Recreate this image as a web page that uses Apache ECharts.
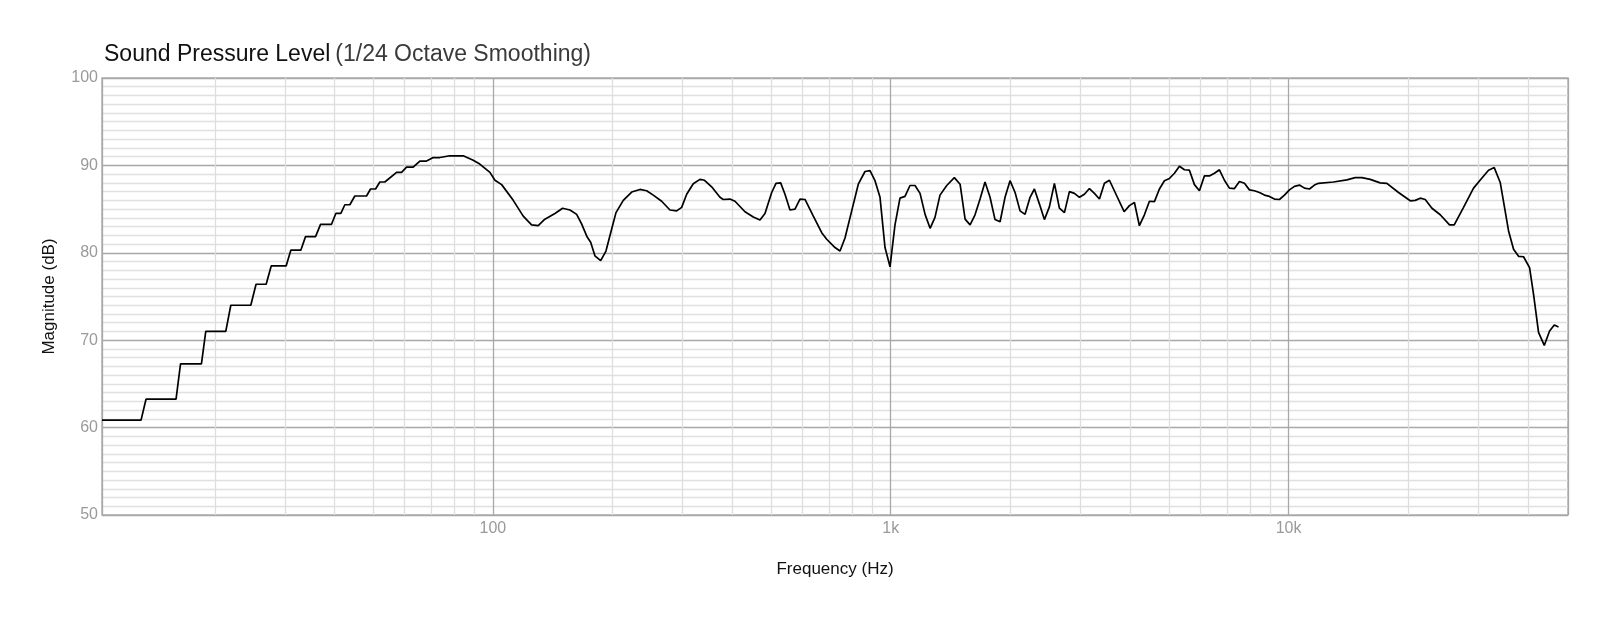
<!DOCTYPE html>
<html>
<head>
<meta charset="utf-8">
<title>Sound Pressure Level</title>
<script src="https://cdn.jsdelivr.net/npm/echarts@6/dist/echarts.min.js"></script>
<style>
  html, body { margin: 0; padding: 0; background: #fff; }
  #container { width: 1600px; height: 625px; }
</style>
</head>
<body>
<div id="container"></div>
<script>
var freqHz = [
  10.41, 13.05, 13.43, 15.98, 16.40, 18.51, 18.98, 21.31, 21.94, 24.63,
  25.39, 26.92, 27.72, 30.22, 31.05, 32.90, 33.81, 35.83, 36.88, 39.30,
  40.29, 41.48, 42.45, 43.70, 44.98, 48.12, 49.26, 50.71, 51.98, 53.50,
  57.27, 58.94, 60.67, 63.04, 65.53, 68.13, 70.78, 73.57, 77.96, 84.21,
  89.23, 92.7, 98.3, 101.2, 105.2, 112.5, 119.2, 125.1, 130.0, 135.1,
  143.2, 149.7, 156.2, 162.4, 167.1, 172.6, 176.1, 180.5, 186.6, 192.4,
  198.8, 203.9, 212.7, 223.3, 234.2, 243.5, 253.0, 265.6, 278.7, 289.7,
  298.2, 307.0, 318.9, 331.5, 340.4, 354.7, 372.2, 379.4, 394.4, 406.0,
  430.2, 451.4, 469.2, 483.0, 502.1, 514.7, 528.9, 542.3, 558.2, 574.6,
  591.5, 608.9, 638.9, 670.7, 690.4, 724.3, 745.6, 767.5, 797.8, 828.9,
  861.7, 887.0, 913.1, 939.9, 967.5, 996.0, 1025, 1055, 1086, 1118,
  1151, 1185, 1220, 1256, 1292, 1330, 1383, 1445, 1494, 1538,
  1583, 1629, 1677, 1726, 1777, 1829, 1883, 1938, 1995, 2054,
  2114, 2176, 2240, 2297, 2364, 2434, 2505, 2579, 2655, 2733,
  2813, 2896, 2981, 3068, 3158, 3251, 3347, 3445, 3546, 3701,
  3861, 3981, 4098, 4218, 4342, 4470, 4601, 4736, 4875, 5018,
  5166, 5317, 5474, 5634, 5800, 5970, 6145, 6326, 6512, 6703,
  6900, 7102, 7311, 7526, 7747, 7974, 8208, 8449, 8697, 8953,
  9216, 9486, 9765, 10052, 10347, 10651, 10964, 11286, 11617, 11889,
  12971, 14016, 14706, 15288, 16040, 16996, 17668, 18899, 20224, 20818,
  21429, 22058, 22931, 24059, 25390, 26090, 27533, 29173, 30629, 31821,
  32890, 34045, 35730, 36780, 37860, 38970, 40350, 41290, 42500, 43930,
  45300, 46550, 47720
];
var splDb = [
  60.85, 60.85, 63.25, 63.25, 67.3, 67.3, 71.0, 71.0, 74.0, 74.0,
  76.4, 76.4, 78.5, 78.5, 80.3, 80.3, 81.85, 81.85, 83.26, 83.26,
  84.5, 84.5, 85.5, 85.5, 86.5, 86.5, 87.3, 87.3, 88.1, 88.1,
  89.2, 89.2, 89.8, 89.8, 90.5, 90.5, 90.9, 90.9, 91.1, 91.1,
  90.6, 90.15, 89.2, 88.3, 87.8, 86.0, 84.2, 83.2, 83.1, 83.85,
  84.5, 85.1, 84.9, 84.4, 83.3, 81.8, 81.2, 79.65, 79.1, 80.2,
  82.7, 84.6, 86.0, 86.95, 87.25, 87.1, 86.6, 85.9, 84.9, 84.8,
  85.2, 86.7, 87.9, 88.4, 88.3, 87.55, 86.35, 86.1, 86.15, 85.9,
  84.7, 84.1, 83.75, 84.5, 86.9, 87.95, 88.0, 86.7, 84.9, 85.0,
  86.15, 86.1, 84.2, 82.3, 81.55, 80.6, 80.2, 81.7, 84.8, 87.85,
  89.3, 89.4, 88.25, 86.35, 80.6, 78.4, 83.2, 86.25, 86.45, 87.7,
  87.7, 86.8, 84.4, 82.8, 84.05, 86.6, 87.7, 88.6, 87.85, 83.85,
  83.2, 84.35, 86.15, 88.1, 86.35, 83.8, 83.55, 86.35, 88.25, 86.9,
  84.8, 84.4, 86.35, 87.3, 85.6, 83.8, 85.25, 87.95, 85.1, 84.6,
  87.0, 86.8, 86.35, 86.7, 87.35, 86.8, 86.15, 87.95, 88.3, 86.5,
  84.7, 85.4, 85.75, 83.1, 84.35, 85.9, 85.85, 87.3, 88.25, 88.5,
  89.1, 89.9, 89.5, 89.45, 87.8, 87.1, 88.8, 88.8, 89.1, 89.5,
  88.3, 87.4, 87.35, 88.15, 87.95, 87.2, 87.1, 86.9, 86.6, 86.45,
  86.15, 86.1, 86.6, 87.2, 87.6, 87.75, 87.4, 87.3, 87.75, 87.95,
  88.1, 88.35, 88.6, 88.6, 88.4, 88.0, 87.95, 86.9, 85.95, 86.0,
  86.25, 86.1, 85.1, 84.35, 83.2, 83.2, 85.2, 87.4, 88.55, 89.45,
  89.75, 88.05, 82.5, 80.4, 79.6, 79.55, 78.3, 75.25, 70.9, 69.4,
  71.05, 71.75, 71.5
];
// frequency range shown and the light 2..9 per-decade gridlines
var freqMin = 10.41;
var freqMax = 50400;
var minorFreqs = [20, 30, 40, 50, 60, 70, 80, 90,
  200, 300, 400, 500, 600, 700, 800, 900,
  2000, 3000, 4000, 5000, 6000, 7000, 8000, 9000,
  20000, 30000, 40000];
var decadeLabels = { 100: '100', 1000: '1k', 10000: '10k' };

var dom = document.getElementById('container');
var myChart = echarts.init(dom);

var points = freqHz.map(function (f, i) { return [f, splDb[i]]; });
var font = '"Liberation Sans", Arial, Helvetica, sans-serif';

var option = {
  animation: false,
  backgroundColor: '#ffffff',
  title: {
    left: 99,
    top: 38,
    text: '{a|Sound Pressure Level} {b|(1/24 Octave Smoothing)}',
    textStyle: {
      fontWeight: 'normal',
      rich: {
        a: { fontFamily: font, fontSize: 23, fontWeight: 'normal', color: '#111111' },
        b: { fontFamily: font, fontSize: 23, fontWeight: 'normal', color: '#3a3a3a' }
      }
    }
  },
  grid: {
    left: 102,
    right: 32,
    top: 78,
    bottom: 110,
    show: true,
    borderColor: '#b3b3b3',
    borderWidth: 1.5
  },
  xAxis: {
    type: 'log',
    logBase: 10,
    min: freqMin,
    max: freqMax,
    name: 'Frequency (Hz)',
    nameLocation: 'middle',
    nameGap: 46,
    nameTextStyle: { fontFamily: font, fontSize: 17, color: '#111111' },
    axisLine: { show: false },
    axisTick: { show: false },
    axisLabel: {
      showMinLabel: false,
      showMaxLabel: false,
      margin: 6,
      fontFamily: font,
      fontSize: 16,
      color: '#9a9a9a',
      formatter: function (v) {
        var r = Math.round(v);
        return decadeLabels[r] || '';
      }
    },
    splitLine: { show: true, lineStyle: { color: '#a8a8a8', width: 1.3 } }
  },
  yAxis: {
    type: 'value',
    min: 50,
    max: 100,
    interval: 10,
    name: 'Magnitude (dB)',
    nameLocation: 'middle',
    nameGap: 44,
    nameTextStyle: { fontFamily: font, fontSize: 17, color: '#111111' },
    axisLine: { show: false },
    axisTick: { show: false },
    axisLabel: { margin: 4, fontFamily: font, fontSize: 16, color: '#9a9a9a' },
    splitLine: { show: true, lineStyle: { color: '#a8a8a8', width: 1.3 } },
    minorTick: { show: false, splitNumber: 10 },
    minorSplitLine: { show: true, lineStyle: { color: '#e0e0e0', width: 1.3 } }
  },
  series: [
    {
      name: 'grid',
      type: 'line',
      data: [],
      z: 1,
      silent: true,
      markLine: {
        silent: true,
        symbol: ['none', 'none'],
        label: { show: false },
        lineStyle: { color: '#dedede', width: 1.3, type: 'solid' },
        data: minorFreqs.map(function (f) { return { xAxis: f }; })
      }
    },
    {
      name: 'SPL',
      type: 'line',
      data: points,
      z: 5,
      showSymbol: false,
      symbol: 'none',
      lineStyle: { color: '#000000', width: 1.7 }
    }
  ]
};

if (option && typeof option === 'object') {
  myChart.setOption(option, true);
}
</script>
</body>
</html>
